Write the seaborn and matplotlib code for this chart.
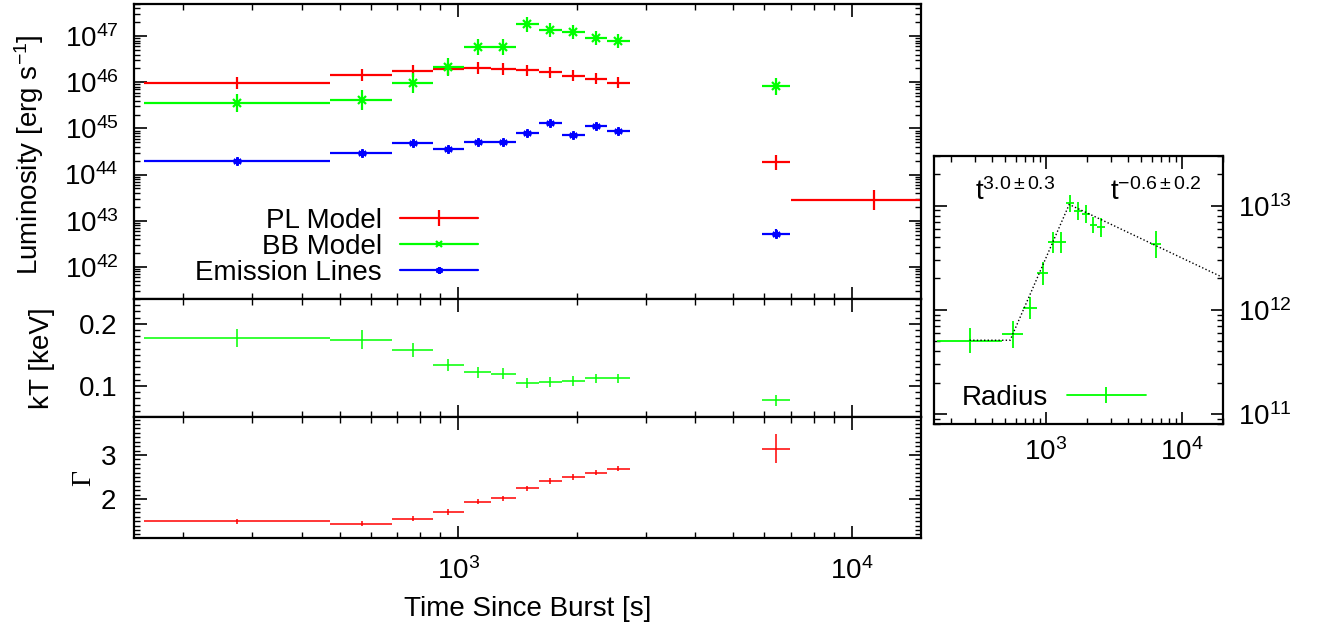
import numpy as np
import matplotlib
matplotlib.use("Agg")
import matplotlib.pyplot as plt
import seaborn as sns
from matplotlib.lines import Line2D
from matplotlib.ticker import LogLocator, MultipleLocator, NullFormatter, LogFormatterMathtext, FixedLocator

# ---------------- data ----------------
# time bins [s]
t_mid = [274, 568, 766, 944, 1120, 1301, 1494, 1710, 1958, 2234, 2547, 6412]
t_lo = [159, 471, 679, 863, 1035, 1208, 1400, 1604, 1833, 2096, 2395, 5930]
t_hi = [471, 679, 863, 1035, 1208, 1400, 1604, 1833, 2096, 2395, 2725, 6970]
# extra late PL-only bin
t_late_mid = [11400]
t_late_lo = [7010]
t_late_hi = [18500]

# luminosities [erg/s] and errors in dex
L_pl = [9.5e45, 1.43e46, 1.74e46, 1.95e46, 2.05e46, 1.9e46, 1.83e46, 1.66e46, 1.38e46, 1.2e46, 9.8e45, 1.85e44]
L_pl_err = [0.13, 0.13, 0.13, 0.13, 0.13, 0.13, 0.12, 0.12, 0.12, 0.12, 0.12, 0.16]
L_pl_late = [2.77e43]
L_pl_late_err = [0.22]
L_bb = [3.57e45, 4.2e45, 9.7e45, 2.16e46, 5.87e46, 5.8e46, 1.8e47, 1.35e47, 1.24e47, 9.2e46, 7.8e46, 8.2e45]
L_bb_err = [0.2, 0.22, 0.21, 0.2, 0.17, 0.17, 0.17, 0.15, 0.15, 0.15, 0.15, 0.19]
L_el = [1.95e44, 2.9e44, 4.85e44, 3.5e44, 5.0e44, 5.1e44, 8.0e44, 1.32e45, 7.1e44, 1.12e45, 8.7e44, 5.2e42]
L_el_err = [0.05, 0.05, 0.05, 0.05, 0.05, 0.05, 0.05, 0.05, 0.05, 0.05, 0.05, 0.1]
L_ticks = [1e42, 1e43, 1e44, 1e45, 1e46, 1e47]

# blackbody temperature [keV]
kT = [0.177, 0.1745, 0.158, 0.134, 0.122, 0.120, 0.105, 0.106, 0.108, 0.112, 0.112, 0.077]
kT_err = [0.015, 0.015, 0.011, 0.0095, 0.0085, 0.0085, 0.008, 0.008, 0.008, 0.008, 0.008, 0.009]
kT_ticks = [0.1, 0.2]
kT_ticklabels = ["0.1", "0.2"]

# photon index
gamma = [1.50, 1.446, 1.555, 1.707, 1.94, 2.02, 2.246, 2.41, 2.50, 2.60, 2.69, 3.14]
gamma_err = [0.06, 0.06, 0.06, 0.06, 0.06, 0.06, 0.06, 0.06, 0.06, 0.06, 0.06, 0.33]
gamma_ticks = [2, 3]
gamma_ticklabels = ["2", "3"]

# blackbody radius
radius = [5.07e11, 5.85e11, 1.04e12, 2.24e12, 4.43e12, 4.43e12, 1.05e13, 8.9e12, 8.3e12, 6.5e12, 6.2e12, 4.27e12]
radius_err = [0.12, 0.13, 0.11, 0.11, 0.10, 0.10, 0.08, 0.09, 0.09, 0.08, 0.09, 0.13]
R_ticks = [1e11, 1e12, 1e13]

time_ticks = [1e3, 1e4]

# broken power-law fit to the radius
fit_R0 = 5.1e11
fit_tb1 = 545.0
fit_tb2 = 1483.0
fit_a1 = 3.0
fit_a2 = -0.62
fit_tstart = 274.0
fit_tend = 2.0e4

# ---------------- style ----------------
sns.set_theme(style="ticks")
plt.rcParams["font.family"] = ["Liberation Sans", "DejaVu Sans"]
plt.rcParams["mathtext.fontset"] = "custom"
plt.rcParams["mathtext.rm"] = "Liberation Sans"
plt.rcParams["mathtext.it"] = "Liberation Sans:italic"
plt.rcParams["mathtext.bf"] = "Liberation Sans:bold"
plt.rcParams["axes.linewidth"] = 1.6
plt.rcParams["axes.edgecolor"] = "black"
for k in ("text.color", "axes.labelcolor", "xtick.color", "ytick.color"):
    plt.rcParams[k] = "black"

FS = 20
RED, GREEN, BLUE = "#ff0000", "#00ff00", "#0000ff"
AST = (6, 2, 0)

fig = plt.figure(figsize=(13.17, 6.28), dpi=100)
W, H = 1317.0, 628.0


def pos(x0, y0, x1, y1):
    return [x0 / W, 1 - y1 / H, (x1 - x0) / W, (y1 - y0) / H]


ax_L = fig.add_axes(pos(134, 4, 921, 299))
ax_kT = fig.add_axes(pos(134, 299, 921, 417), sharex=ax_L)
ax_G = fig.add_axes(pos(134, 417, 921, 538), sharex=ax_L)
ax_R = fig.add_axes(pos(934, 156, 1222.7, 424))


def style_axis(ax):
    ax.tick_params(which="both", direction="in", top=True, right=True, colors="black",
                   labelsize=FS)
    ax.tick_params(which="major", length=9, width=1.2)
    ax.tick_params(which="minor", length=4.5, width=1.0)
    for s in ax.spines.values():
        s.set_linewidth(1.6)
        s.set_color("black")


def dex_err(vals, errs):
    v = np.asarray(vals, float)
    e = np.asarray(errs, float)
    return [v - v * 10 ** (-e), v * 10 ** e - v]


def xerr(mid, lo, hi):
    m = np.asarray(mid, float)
    return [m - np.asarray(lo, float), np.asarray(hi, float) - m]


# ---------------- luminosity panel ----------------
ax = ax_L
ax.set_xscale("log")
ax.set_yscale("log")
ax.errorbar(t_mid, L_pl, xerr=xerr(t_mid, t_lo, t_hi), yerr=dex_err(L_pl, L_pl_err),
            fmt="none", ecolor=RED, elinewidth=1.6, capsize=0)
ax.errorbar(t_late_mid, L_pl_late, xerr=xerr(t_late_mid, t_late_lo, t_late_hi),
            yerr=dex_err(L_pl_late, L_pl_late_err), fmt="none", ecolor=RED, elinewidth=1.6, capsize=0)
ax.errorbar(t_mid, L_bb, xerr=xerr(t_mid, t_lo, t_hi), yerr=dex_err(L_bb, L_bb_err),
            fmt="", linestyle="none", marker="x", color=GREEN, ms=6, mew=1.6,
            ecolor=GREEN, elinewidth=1.6, capsize=0)
ax.errorbar(t_mid, L_el, xerr=xerr(t_mid, t_lo, t_hi), yerr=dex_err(L_el, L_el_err),
            fmt="", linestyle="none", marker=AST, color=BLUE, ms=6, mew=1.6,
            ecolor=BLUE, elinewidth=1.6, capsize=0)
ax.set_xlim(150, 15000)
ax.set_ylim(2e41, 5e47)
ax.yaxis.set_major_locator(FixedLocator(L_ticks))
ax.yaxis.set_minor_locator(LogLocator(base=10, subs=np.arange(2, 10), numticks=20))
ax.yaxis.set_major_formatter(LogFormatterMathtext())
ax.yaxis.set_minor_formatter(NullFormatter())
ax.set_ylabel("Luminosity [erg s$^{-1}$]", fontsize=FS)
ax.yaxis.set_label_coords(-0.112, 0.49)
style_axis(ax)
ax.tick_params(axis="y", pad=11)
ax.tick_params(axis="x", labelbottom=False)

handles = [
    Line2D([], [], color=RED, lw=1.6, marker="|", ms=12, mew=1.6),
    Line2D([], [], color=GREEN, lw=1.6, marker="x", ms=5, mew=1.6),
    Line2D([], [], color=BLUE, lw=1.6, marker=AST, ms=5, mew=1.6),
]
ax.legend(handles, ["PL Model", "BB Model", "Emission Lines"], loc="center right",
          bbox_to_anchor=(0.437, 0.176), frameon=False, markerfirst=False, fontsize=FS,
          handlelength=2.8, handletextpad=0.65, labelspacing=0.0, borderpad=0,
          borderaxespad=0)

# common x for left panels
for a in (ax_L, ax_kT, ax_G):
    a.xaxis.set_major_locator(FixedLocator(time_ticks))
    a.xaxis.set_minor_locator(LogLocator(base=10, subs=np.arange(2, 10), numticks=20))
    a.xaxis.set_minor_formatter(NullFormatter())

# ---------------- kT panel ----------------
ax = ax_kT
ax.errorbar(t_mid, kT, xerr=xerr(t_mid, t_lo, t_hi), yerr=kT_err, fmt="none",
            ecolor=GREEN, elinewidth=1.1, capsize=0)
ax.set_ylim(0.05, 0.24)
ax.yaxis.set_major_locator(FixedLocator(kT_ticks))
ax.yaxis.set_minor_locator(MultipleLocator(0.01))
ax.set_yticklabels(kT_ticklabels)
ax.set_ylabel("kT [keV]", fontsize=FS)
ax.yaxis.set_label_coords(-0.10, 0.5)
style_axis(ax)
ax.tick_params(axis="y", pad=12)
ax.tick_params(axis="x", labelbottom=False)

# ---------------- Gamma panel ----------------
ax = ax_G
ax.errorbar(t_mid, gamma, xerr=xerr(t_mid, t_lo, t_hi), yerr=gamma_err, fmt="none",
            ecolor=RED, elinewidth=1.1, capsize=0)
ax.set_ylim(1.12, 3.86)
ax.yaxis.set_major_locator(FixedLocator(gamma_ticks))
ax.yaxis.set_minor_locator(MultipleLocator(0.1))
ax.set_yticklabels(gamma_ticklabels)
ax.set_ylabel("Γ", fontsize=FS, family=["Liberation Serif", "DejaVu Serif"], rotation=90)
ax.yaxis.set_label_coords(-0.048, 0.5)
style_axis(ax)
ax.tick_params(axis="y", pad=13)
ax.xaxis.set_major_formatter(LogFormatterMathtext())
ax.tick_params(axis="x", which="major", pad=14)
ax.set_xlabel("Time Since Burst [s]", fontsize=FS, labelpad=8)
ax.set_xlim(150, 15000)

# ---------------- radius panel ----------------
ax = ax_R
ax.set_xscale("log")
ax.set_yscale("log")
ax.errorbar(t_mid, radius, xerr=xerr(t_mid, t_lo, t_hi), yerr=dex_err(radius, radius_err),
            fmt="none", ecolor=GREEN, elinewidth=1.3, capsize=0)
t_fit = np.array([fit_tstart, fit_tb1, fit_tb2, fit_tend])
R_fit = np.where(t_fit <= fit_tb1, fit_R0,
                 np.where(t_fit <= fit_tb2, fit_R0 * (t_fit / fit_tb1) ** fit_a1,
                          fit_R0 * (fit_tb2 / fit_tb1) ** fit_a1 * (t_fit / fit_tb2) ** fit_a2))
sns.lineplot(x=t_fit, y=R_fit, ax=ax, color="black", lw=1.0, linestyle=(0, (1, 1.6)),
             estimator=None, sort=False, legend=False)
ax.set_xlim(150, 2e4)
ax.set_ylim(8e10, 3e13)
ax.xaxis.set_major_locator(FixedLocator(time_ticks))
ax.xaxis.set_minor_locator(LogLocator(base=10, subs=np.arange(2, 10), numticks=20))
ax.xaxis.set_major_formatter(LogFormatterMathtext())
ax.xaxis.set_minor_formatter(NullFormatter())
ax.yaxis.set_major_locator(FixedLocator(R_ticks))
ax.yaxis.set_minor_locator(LogLocator(base=10, subs=np.arange(2, 10), numticks=20))
ax.yaxis.set_major_formatter(LogFormatterMathtext())
ax.yaxis.set_minor_formatter(NullFormatter())
ax.set_xlabel("")
ax.set_ylabel("")
style_axis(ax)
ax.tick_params(axis="y", labelleft=False, labelright=True, pad=11)
ax.tick_params(axis="x", pad=10)
ax.text(0.142, 0.836, r"t$^{\mathdefault{3.0\pm0.3}}$", transform=ax.transAxes,
        fontsize=FS, ha="left", va="baseline")
ax.text(0.61, 0.836, r"t$^{\mathdefault{-0.6\pm0.2}}$", transform=ax.transAxes,
        fontsize=FS, ha="left", va="baseline")
ax.legend([Line2D([], [], color=GREEN, lw=1.3, marker="|", ms=12, mew=1.3)], ["Radius"],
          loc="center right", bbox_to_anchor=(0.734, 0.097), frameon=False, markerfirst=False,
          fontsize=FS, handlelength=2.84, handletextpad=0.68, borderpad=0, borderaxespad=0)

fig.savefig("out.png", dpi=100)
